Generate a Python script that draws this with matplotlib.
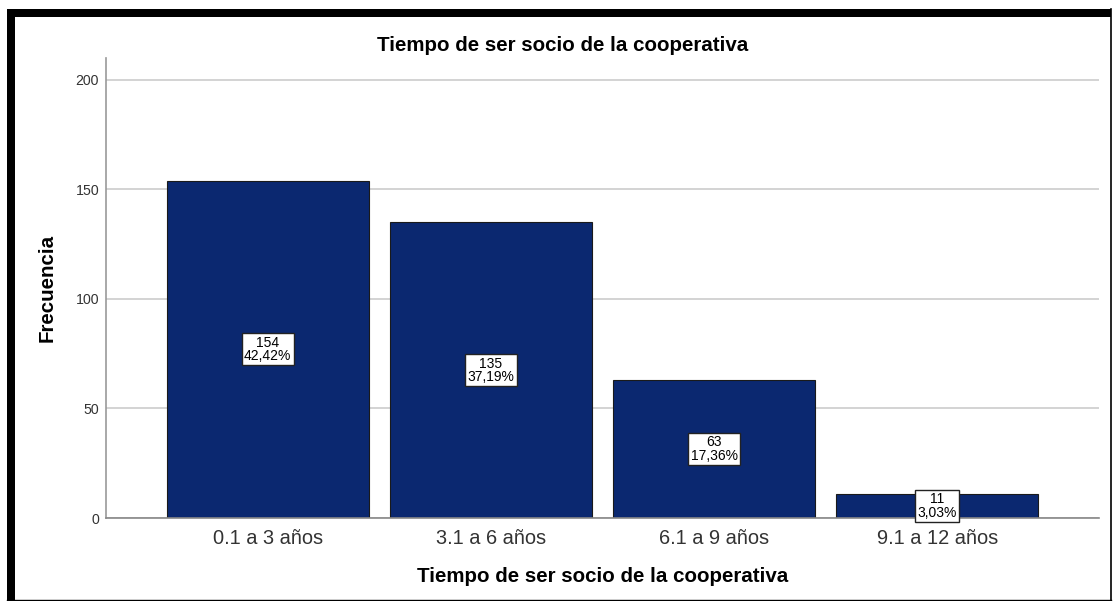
import matplotlib
matplotlib.use("Agg")
import matplotlib.pyplot as plt
from matplotlib.patches import Rectangle
from matplotlib.lines import Line2D

categories = ["0.1 a 3 años", "3.1 a 6 años", "6.1 a 9 años", "9.1 a 12 años"]
counts = [154, 135, 63, 11]
percents = ["42,42%", "37,19%", "17,36%", "3,03%"]
yticks = [0, 50, 100, 150, 200]

plt.rcParams['font.family'] = ['Liberation Sans', 'DejaVu Sans']

W, H = 1113, 601
fig = plt.figure(figsize=(W / 100, H / 100), dpi=100)
fig.patch.set_facecolor("white")

# axes placement in pixels
ax_l, ax_r, ax_t, ax_b = 106, 1099, 58, 518
ax = fig.add_axes([ax_l / W, 1 - ax_b / H, (ax_r - ax_l) / W, (ax_b - ax_t) / H])

x = list(range(len(categories)))
ax.bar(x, counts, width=0.904, color="#0b2870", edgecolor="#1a1a1a", linewidth=0.8, zorder=3)

ax.set_xlim(-0.725, len(categories) - 1 + 0.725)
ax.set_ylim(0, 210)
ax.set_yticks(yticks)
ax.set_yticklabels([str(v) for v in yticks], fontsize=10.2, color="#333333")
ax.set_xticks(x)
ax.set_xticklabels(categories, fontsize=14.4, color="#333333")
ax.tick_params(axis="both", length=0)
ax.tick_params(axis="y", pad=5)
ax.tick_params(axis="x", pad=8)
ax.grid(axis="y", color="#cccccc", linewidth=1.2, zorder=0)
for s in ["top", "right"]:
    ax.spines[s].set_visible(False)
ax.spines["left"].set_color("#999999")
ax.spines["bottom"].set_color("#888888")
ax.spines["left"].set_linewidth(1.2)
ax.spines["bottom"].set_linewidth(1.2)
ax.spines["bottom"].set_zorder(4)

for xi, c, p in zip(x, counts, percents):
    ax.text(xi, c / 2, f"{c}\n{p}", ha="center", va="center", fontsize=10,
            linespacing=0.92, color="black", zorder=6,
            bbox=dict(boxstyle="square,pad=0.18", facecolor="white", edgecolor="#222222", linewidth=1.0))

ax.set_xlabel("Tiempo de ser socio de la cooperativa", fontsize=14.8, fontweight="bold", va="center")
ax.xaxis.set_label_coords(0.5, (ax_b - 576) / (ax_b - ax_t))
ax.set_ylabel("Frecuencia", fontsize=14.8, fontweight="bold", va="center")
ax.yaxis.set_label_coords((47 - ax_l) / (ax_r - ax_l), 0.5)

fig.text(563 / W, 1 - 45.5 / H, "Tiempo de ser socio de la cooperativa", ha="center", va="center",
         fontsize=14.8, fontweight="bold")

# outer frame
fig.add_artist(Rectangle((7 / W, 0), 8 / W, 1 - 9 / H, transform=fig.transFigure, color="black", lw=0))
fig.add_artist(Rectangle((7 / W, 1 - 17 / H), (1111 - 7) / W, 8 / H, transform=fig.transFigure, color="black", lw=0))
fig.add_artist(Line2D([1110.5 / W, 1110.5 / W], [0, 1 - 9 / H], transform=fig.transFigure, color="black", lw=1.2))
fig.add_artist(Line2D([7 / W, 1111 / W], [1.5 / H, 1.5 / H], transform=fig.transFigure, color="black", lw=1.0))

fig.savefig("out.png", dpi=100)
